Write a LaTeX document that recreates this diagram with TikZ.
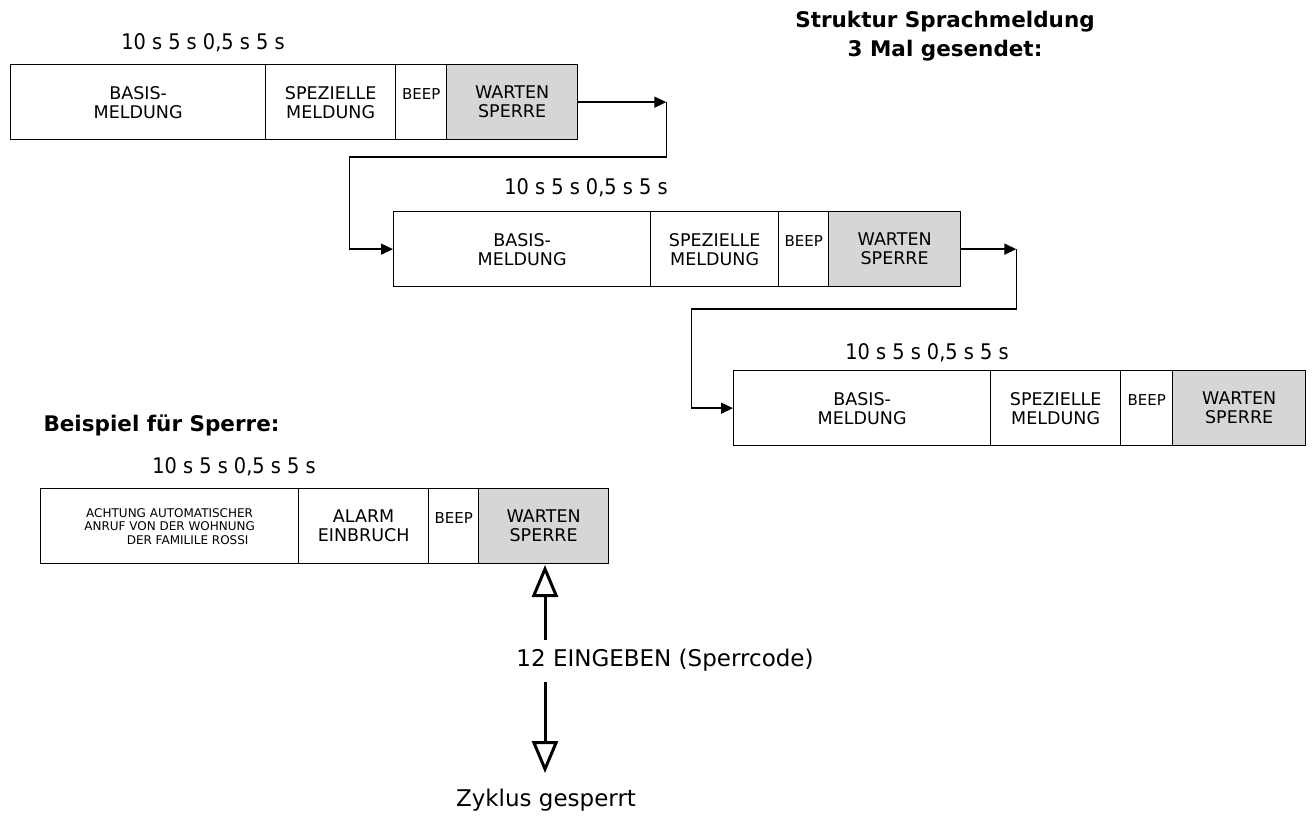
\documentclass[tikz,border=0pt]{standalone}
\usepackage{fontspec}
\setmainfont{DejaVu Sans}
\newfontfamily\cond{DejaVu Sans Condensed}
\usetikzlibrary{arrows.meta}
\begin{document}
\begin{tikzpicture}[x=1pt,y=-1pt,
  seg/.style={draw,line width=1.3pt,minimum height=75pt,inner sep=0pt,align=center,font=\fontsize{17.5}{19}\selectfont,anchor=north west},
  gray/.style={fill=black!16},
  tim/.style={font=\cond\fontsize{21.5}{23}\selectfont},
  conn/.style={line width=1.5pt},
  tip/.style={-{Triangle[width=11pt,length=12pt]}},
  bigtip/.style={line width=3pt,-{Triangle[open,width=26pt,length=32pt,line width=3pt]}}]
\useasboundingbox (0,0) rectangle (1315,818);
\node[font=\bfseries\fontsize{21.5}{29}\selectfont,align=center] (title) at (945,36) {Struktur Sprachmeldung\\3 Mal gesendet:};
% row 1
\node[tim] (t1) at (203,43) {10 s 5 s 0,5 s 5 s};
\node[seg,minimum width=255pt] (a1) at (10,64) {BASIS-\\MELDUNG};
\node[seg,minimum width=130pt] (b1) at (265,64) {SPEZIELLE\\MELDUNG};
\node[seg,minimum width=51pt,font=\fontsize{15}{17}\selectfont] (c1) at (395,64) {\raisebox{16pt}{BEEP}};
\node[seg,gray,minimum width=131pt] (d1) at (446,64) {WARTEN\\SPERRE};
% row 2
\node[tim] (t2) at (586,188) {10 s 5 s 0,5 s 5 s};
\node[seg,minimum width=257pt] (a2) at (393,211) {BASIS-\\MELDUNG};
\node[seg,minimum width=128pt] (b2) at (650,211) {SPEZIELLE\\MELDUNG};
\node[seg,minimum width=50pt,font=\fontsize{15}{17}\selectfont] (c2) at (778,211) {\raisebox{16pt}{BEEP}};
\node[seg,gray,minimum width=132pt] (d2) at (828,211) {WARTEN\\SPERRE};
% row 3
\node[tim] (t3) at (927,353) {10 s 5 s 0,5 s 5 s};
\node[seg,minimum width=257pt] (a3) at (733,370) {BASIS-\\MELDUNG};
\node[seg,minimum width=130pt] (b3) at (990,370) {SPEZIELLE\\MELDUNG};
\node[seg,minimum width=52pt,font=\fontsize{15}{17}\selectfont] (c3) at (1120,370) {\raisebox{16pt}{BEEP}};
\node[seg,gray,minimum width=133pt] (d3) at (1172,370) {WARTEN\\SPERRE};
% connectors
\path (d1.east) ++(88,0) coordinate (k1);
\draw[conn,tip] (d1.east) -- (k1);
\draw[conn,tip] (k1) -- ++(0,55) -- ++(-317,0) |- (a2.west);
\path (d2.east) ++(55,0) coordinate (k2);
\draw[conn,tip] (d2.east) -- (k2);
\draw[conn,tip] (k2) -- ++(0,60) -- ++(-325,0) |- (a3.west);
% example
\node[font=\bfseries\fontsize{21.5}{26}\selectfont,anchor=west] (bsp) at (40,425) {Beispiel für Sperre:};
\node[tim] (t4) at (234,467) {10 s 5 s 0,5 s 5 s};
\node[seg,minimum width=258pt,font=\fontsize{12}{13.5}\selectfont] (a4) at (40,488) {ACHTUNG AUTOMATISCHER\\ANRUF VON DER WOHNUNG\\\hspace*{3em}DER FAMILILE ROSSI};
\node[seg,minimum width=130pt] (b4) at (298,488) {ALARM\\EINBRUCH};
\node[seg,minimum width=50pt,font=\fontsize{15}{17}\selectfont] (c4) at (428,488) {\raisebox{16pt}{BEEP}};
\node[seg,gray,minimum width=130pt] (d4) at (478,488) {WARTEN\\SPERRE};
\node[font=\fontsize{23}{27}\selectfont] (code) at (665,660) {12 EINGEBEN (Sperrcode)};
\node[font=\fontsize{23}{27}\selectfont] (zyk) at (546,800) {Zyklus gesperrt};
\draw[bigtip] (545,640) -- (545,565);
\draw[bigtip] (545,682) -- (545,773);
\end{tikzpicture}
\end{document}
